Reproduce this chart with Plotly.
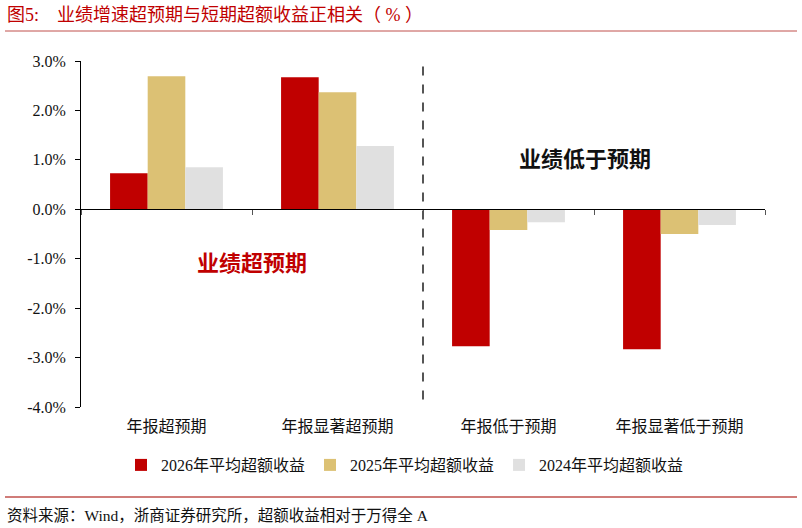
import plotly.graph_objects as go

categories = ["年报超预期", "年报显著超预期", "年报低于预期", "年报显著低于预期"]
series_names = ["2026年平均超额收益", "2025年平均超额收益", "2024年平均超额收益"]
values_2026 = [0.73, 2.67, -2.77, -2.83]
values_2025 = [2.69, 2.37, -0.42, -0.50]
values_2024 = [0.85, 1.28, -0.26, -0.32]
y_ticks = [3, 2, 1, 0, -1, -2, -3, -4]

colors = ["#C00000", "#DCC174", "#E0E0E0"]
FONT = "Liberation Serif, Times New Roman, serif, Noto Sans CJK SC"

W, H = 802, 528
L, R, T, B = 81, 37, 61, 121
PW, PH = W - L - R, H - T - B


def px(x):
    return (x - L) / PW


def py(y):
    return (H - B - y) / PH


fig = go.Figure()
for name, vals, col in zip(series_names, [values_2026, values_2025, values_2024], colors):
    fig.add_trace(go.Bar(x=categories, y=vals, name=name, marker_color=col,
                         marker_line_width=0))

# axis along y=0 with boundary ticks, labels on a second axis at the bottom
zero_pos = (0 - min(y_ticks)) / (max(y_ticks) - min(y_ticks))

fig.update_layout(
    width=W, height=H,
    margin=dict(l=L, r=R, t=T, b=B, autoexpand=False),
    paper_bgcolor="white", plot_bgcolor="white",
    font=dict(family=FONT, size=15, color="#111"),
    barmode="group", bargap=0.34, bargroupgap=0,
    showlegend=True,
    legend=dict(orientation="h", x=px(405), xanchor="center", y=py(465), yanchor="middle",
                font=dict(size=16, color="#111"), itemwidth=30, tracegroupgap=0,
                traceorder="normal"),
    xaxis=dict(type="category", anchor="free", position=zero_pos,
               showline=True, linecolor="black", linewidth=1,
               ticks="outside", tickson="boundaries", ticklen=5, tickcolor="#555",
               showticklabels=False, showgrid=False, zeroline=False),
    xaxis2=dict(overlaying="x", side="bottom", anchor="y", range=[-0.5, 3.5],
                tickvals=list(range(len(categories))), ticktext=categories,
                showline=False, ticks="", showgrid=False, zeroline=False,
                tickfont=dict(size=16, color="#111"), ticklabelstandoff=8),
    yaxis=dict(range=[min(y_ticks), max(y_ticks)], tickvals=y_ticks,
               ticktext=[f"{v:.1f}%" for v in y_ticks],
               showline=True, linecolor="black", linewidth=1,
               ticks="outside", ticklen=5, tickcolor="black",
               showgrid=False, zeroline=False, ticklabelstandoff=6,
               tickfont=dict(size=16, color="#111")),
)

# invisible trace so the bottom label axis is drawn
fig.add_trace(go.Scatter(x=[0], y=[0], xaxis="x2", mode="markers",
                         marker=dict(opacity=0), showlegend=False, hoverinfo="skip"))

# dashed divider between the two halves
fig.add_shape(type="line", xref="x", yref="y", x0=1.5, x1=1.5, y0=-3.85, y1=3.12,
              line=dict(color="#555", width=2, dash="dash"))

fig.add_annotation(text="<b>业绩超预期</b>", xref="x", yref="y", x=0.5, y=-1.1,
                   showarrow=False, font=dict(size=22, color="#C00000"))
fig.add_annotation(text="<b>业绩低于预期</b>", xref="x", yref="y", x=2.45, y=1.0,
                   showarrow=False, font=dict(size=22, color="#111"))

# header and footer
fig.add_annotation(text="图5:    业绩增速超预期与短期超额收益正相关（ % ）", xref="paper", yref="paper",
                   x=px(5), y=py(15), xanchor="left", yanchor="middle",
                   showarrow=False, font=dict(size=18, color="#C00000"))
fig.add_shape(type="line", xref="paper", yref="paper", x0=px(5), x1=px(797),
              y0=py(31), y1=py(31), line=dict(color="#C0504D", width=1))
fig.add_shape(type="line", xref="paper", yref="paper", x0=px(5), x1=px(797),
              y0=py(497), y1=py(497), line=dict(color="#C0504D", width=1.5))
fig.add_annotation(text="资料来源：Wind，浙商证券研究所，超额收益相对于万得全 A", xref="paper", yref="paper",
                   x=px(5), y=py(515), xanchor="left", yanchor="middle", showarrow=False,
                   font=dict(size=15.5, color="#111"))
fig.write_html("out.html", config={"displayModeBar": False},
               post_script="document.body.style.margin='0';")
